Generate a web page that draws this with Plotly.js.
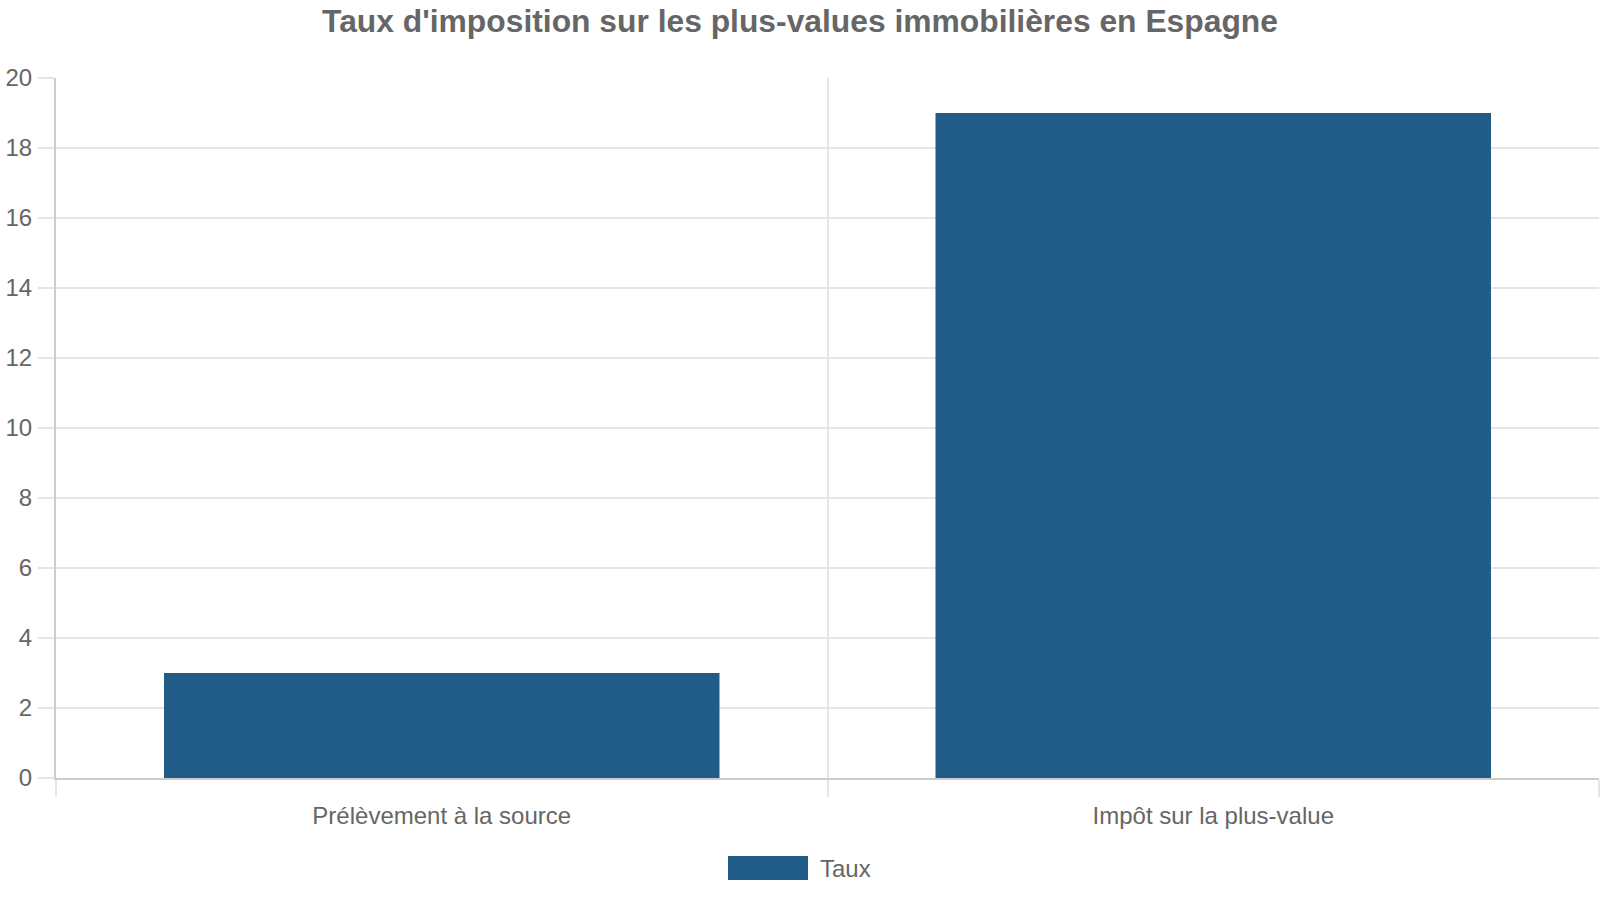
<!DOCTYPE html>
<html>
<head>
<meta charset="utf-8">
<script src="https://cdn.plot.ly/plotly-3.0.1.min.js"></script>
<style>html,body{margin:0;padding:0;background:#fff;}#chart{width:1600px;height:900px;}</style>
</head>
<body>
<div id="chart"></div>
<script>
const categories = ["Prélèvement à la source", "Impôt sur la plus-value"];
const values = [3, 19];
const seriesName = "Taux";
const chartTitle = "Taux d'imposition sur les plus-values immobilières en Espagne";

const barColor = "rgb(32,92,134)";
const textColor = "#666666";
const gridColor = "#e5e5e5";
const axisColor = "#cccccc";
const fontFamily = "'Liberation Sans', Arial, Helvetica, sans-serif";

const data = [{
  type: "bar",
  x: categories,
  y: values,
  name: seriesName,
  marker: {color: barColor, line: {width: 0}},
  showlegend: false,
  hoverinfo: "x+y"
}];

const layout = {
  width: 1600,
  height: 900,
  paper_bgcolor: "#ffffff",
  plot_bgcolor: "#ffffff",
  font: {family: fontFamily, color: textColor, size: 24},
  margin: {l: 56, r: 1, t: 78, b: 122, pad: 0},
  title: {
    text: "<b>" + chartTitle + "</b>",
    font: {family: fontFamily, size: 31.8, color: textColor},
    x: 0.5, xref: "container", xanchor: "center",
    y: 1 - 20.5/900, yref: "container", yanchor: "middle"
  },
  bargap: 0.28,
  xaxis: {
    type: "category",
    tickson: "boundaries",
    ticks: "outside",
    ticklen: 17,
    tickcolor: gridColor,
    tickwidth: 2,
    showgrid: true,
    gridcolor: gridColor,
    gridwidth: 2,
    showline: true,
    linecolor: axisColor,
    linewidth: 2,
    ticklabelstandoff: 15,
    tickfont: {size: 24, color: textColor},
    zeroline: false,
    fixedrange: true
  },
  yaxis: {
    range: [0, 20],
    dtick: 2,
    tick0: 0,
    ticks: "outside",
    ticklen: 16,
    tickcolor: gridColor,
    tickwidth: 2,
    showgrid: true,
    gridcolor: gridColor,
    gridwidth: 2,
    showline: true,
    linecolor: axisColor,
    linewidth: 2,
    zeroline: false,
    ticklabelstandoff: 1,
    tickfont: {size: 24, color: textColor},
    fixedrange: true
  },
  shapes: [{
    type: "rect",
    xref: "paper", yref: "paper",
    x0: (728-56)/1543, x1: (808-56)/1543,
    y0: (778-880)/700, y1: (778-856)/700,
    fillcolor: barColor,
    line: {width: 0}
  }],
  annotations: [{
    xref: "paper", yref: "paper",
    x: (818-56)/1543, y: (778-868)/700,
    xanchor: "left", yanchor: "middle",
    text: seriesName,
    showarrow: false,
    font: {size: 24, color: textColor, family: fontFamily}
  }]
};

Plotly.newPlot("chart", data, layout, {displayModeBar: false, staticPlot: false});
</script>
</body>
</html>
